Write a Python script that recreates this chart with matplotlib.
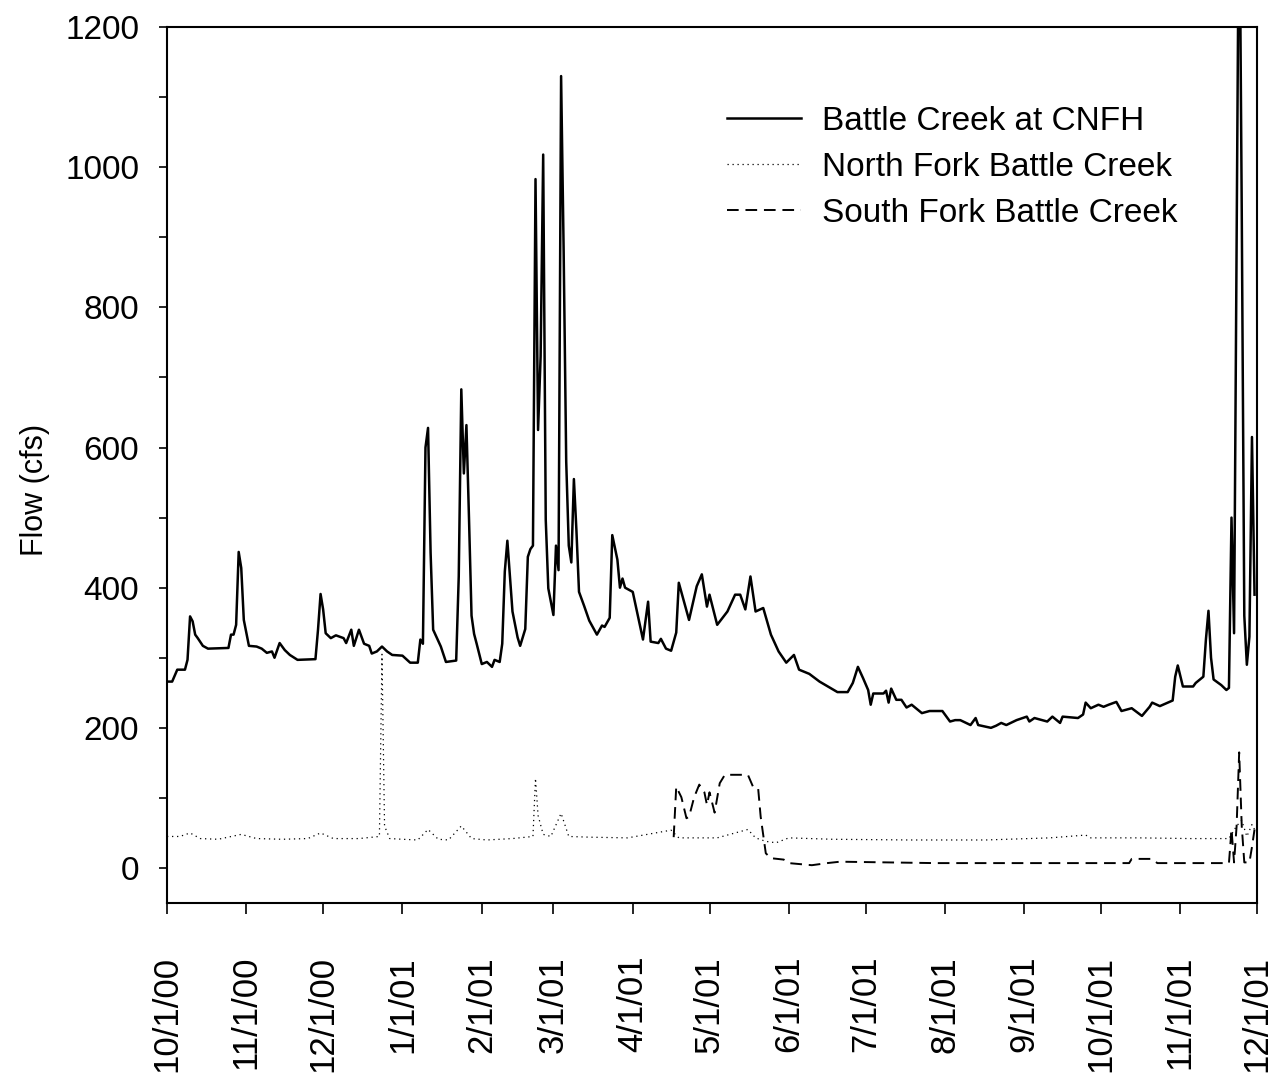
import datetime as dt
import matplotlib
matplotlib.use("Agg")
import matplotlib.pyplot as plt
import matplotlib.dates as mdates
from matplotlib.ticker import MultipleLocator, FuncFormatter

# days counted from 10/1/00, flow in cfs
START = dt.date(2000, 10, 1)

cnfh_day = [0, 2, 4, 7, 8, 9, 10, 11, 12, 14, 16, 24, 25, 26, 27, 28, 29, 30, 32, 35,
            37, 39, 41, 42, 44, 46, 48, 51, 58, 59, 60, 61, 62, 64, 66, 69, 70, 72, 73, 75,
            77, 79, 80, 82, 84, 86, 88, 92, 95, 98, 99, 100, 101, 102, 103, 104, 107, 109, 113, 114,
            115, 116, 117, 118, 119, 120, 121, 123, 125, 127, 128, 130, 131, 132, 133, 135, 137, 138, 140, 141,
            142, 143, 144, 145, 146, 147, 148, 149, 151, 152, 153, 154, 155, 156, 157, 158, 159, 160, 161, 163,
            165, 168, 170, 171, 173, 174, 176, 177, 178, 179, 182, 186, 188, 189, 192, 193, 195, 197, 199, 200,
            204, 207, 209, 211, 212, 215, 219, 222, 224, 226, 228, 230, 233, 236, 239, 242, 245, 247, 251, 255,
            262, 266, 268, 270, 272, 274, 275, 276, 280, 281, 282, 283, 285, 287, 289, 291, 295, 298, 303, 306,
            308, 310, 314, 316, 317, 322, 324, 326, 328, 332, 336, 337, 339, 344, 346, 349, 350, 356, 358, 359,
            361, 364, 366, 368, 371, 373, 377, 381, 384, 385, 388, 393, 394, 395, 397, 401, 402, 405, 406, 407,
            408, 409, 412, 414, 415, 416, 417, 419, 420, 421, 422, 423, 424, 425]
cnfh_flow = [266, 266, 283, 283, 297, 359, 352, 333, 328, 317, 313, 314, 333, 333, 347, 451, 428, 354, 317, 316,
             313, 307, 309, 300, 321, 311, 304, 297, 298, 340, 391, 369, 335, 328, 332, 328, 321, 340, 317, 340,
             320, 317, 306, 309, 316, 309, 304, 303, 293, 293, 326, 320, 600, 628, 450, 340, 316, 294, 296, 416,
             683, 563, 632, 500, 360, 334, 320, 291, 294, 287, 297, 294, 320, 423, 467, 366, 329, 317, 341, 444,
             455, 460, 983, 625, 730, 1018, 497, 399, 361, 460, 425, 1130, 880, 580, 460, 436, 555, 481, 394, 374,
             353, 333, 346, 344, 357, 475, 440, 400, 413, 400, 394, 326, 380, 323, 321, 327, 313, 310, 336, 407,
             354, 402, 419, 373, 390, 347, 366, 390, 390, 369, 416, 366, 371, 333, 309, 293, 304, 283, 277, 266,
             251, 251, 264, 287, 271, 254, 233, 249, 249, 253, 236, 256, 240, 240, 229, 233, 221, 224, 224, 209,
             211, 211, 204, 214, 204, 200, 203, 207, 204, 211, 216, 209, 214, 209, 216, 207, 216, 214, 219, 236,
             228, 233, 230, 233, 237, 224, 228, 217, 230, 236, 231, 239, 273, 289, 259, 259, 264, 273, 326, 367,
             300, 269, 261, 254, 257, 500, 335, 1450, 940, 360, 290, 330, 615, 390]

north_day = [0, 5, 9, 13, 20, 29, 35, 45, 55, 60, 65, 75, 83, 84, 85, 87, 92, 98, 102, 106,
             110, 115, 119, 125, 135, 143, 144, 145, 147, 150, 154, 157, 165, 180, 197, 200, 215, 227, 230, 234,
             238, 243, 260, 290, 320, 345, 359, 361, 380, 400, 415, 418, 420, 422, 424, 425]
north_flow = [45, 45, 50, 42, 41, 48, 42, 41, 42, 50, 42, 42, 45, 305, 60, 42, 41, 40, 55, 41,
              40, 60, 42, 40, 42, 45, 128, 75, 48, 45, 78, 45, 44, 43, 54, 43, 43, 55, 43, 38,
              36, 43, 41, 40, 40, 43, 47, 43, 43, 42, 42, 60, 68, 45, 62, 55]

south_day = [198, 199, 201, 203, 204, 206, 208, 210, 211, 212, 214, 216, 218, 227, 229, 231, 232, 234, 236, 241,
             243, 252, 258, 263, 300, 340, 376, 377, 385, 387, 415, 416, 417, 418, 419, 420, 421, 423, 424, 425]
south_flow = [44, 116, 101, 71, 73, 101, 119, 108, 90, 108, 79, 121, 133, 133, 116, 114, 73, 21, 14, 12,
              7, 4, 7, 9, 7, 7, 7, 13, 13, 7, 7, 55, 8, 60, 165, 60, 8, 8, 30, 55]

series_labels = ["Battle Creek at CNFH", "North Fork Battle Creek", "South Fork Battle Creek"]


def to_dates(days):
    return [START + dt.timedelta(days=d) for d in days]


plt.rcParams["font.family"] = ["Liberation Sans", "DejaVu Sans"]

fig = plt.figure(figsize=(12.8, 10.85), dpi=100)
ax = fig.add_axes([0.1305, 0.1677, 0.8516, 0.8074])

ax.plot(to_dates(cnfh_day), cnfh_flow, color="black", lw=1.8, label=series_labels[0])
ax.plot(to_dates(north_day), north_flow, color="black", lw=0.9, ls=(0, (1, 3)), label=series_labels[1])
ax.plot(to_dates(south_day), south_flow, color="black", lw=1.4, ls=(0, (6, 3.5)), label=series_labels[2])

ax.set_xlim(dt.date(2000, 10, 1), dt.date(2001, 12, 1))
ax.set_ylim(-50, 1200)
ax.yaxis.set_major_locator(MultipleLocator(200))
ax.yaxis.set_minor_locator(MultipleLocator(100))
ax.xaxis.set_major_locator(mdates.MonthLocator(bymonthday=1))
ax.xaxis.set_major_formatter(FuncFormatter(
    lambda v, p: "{d.month}/{d.day}/{y}".format(d=mdates.num2date(v), y=mdates.num2date(v).strftime("%y"))))

ax.tick_params(axis="y", which="both", direction="out", length=6, width=1.2, labelsize=24, pad=14)
ax.tick_params(axis="x", direction="out", length=8, width=1.2, labelsize=25, pad=30, labelrotation=90)
for s in ax.spines.values():
    s.set_linewidth(1.5)

ax.set_ylabel("Flow (cfs)", fontsize=22)
ax.yaxis.set_label_coords(-0.107, 0.4715)

ax.legend(loc="upper left", bbox_to_anchor=(0.514, 0.91), frameon=False, fontsize=24,
          handlelength=2.2, handletextpad=0.65, labelspacing=0.45, borderpad=0, borderaxespad=0)

fig.savefig("out.png", dpi=100)
